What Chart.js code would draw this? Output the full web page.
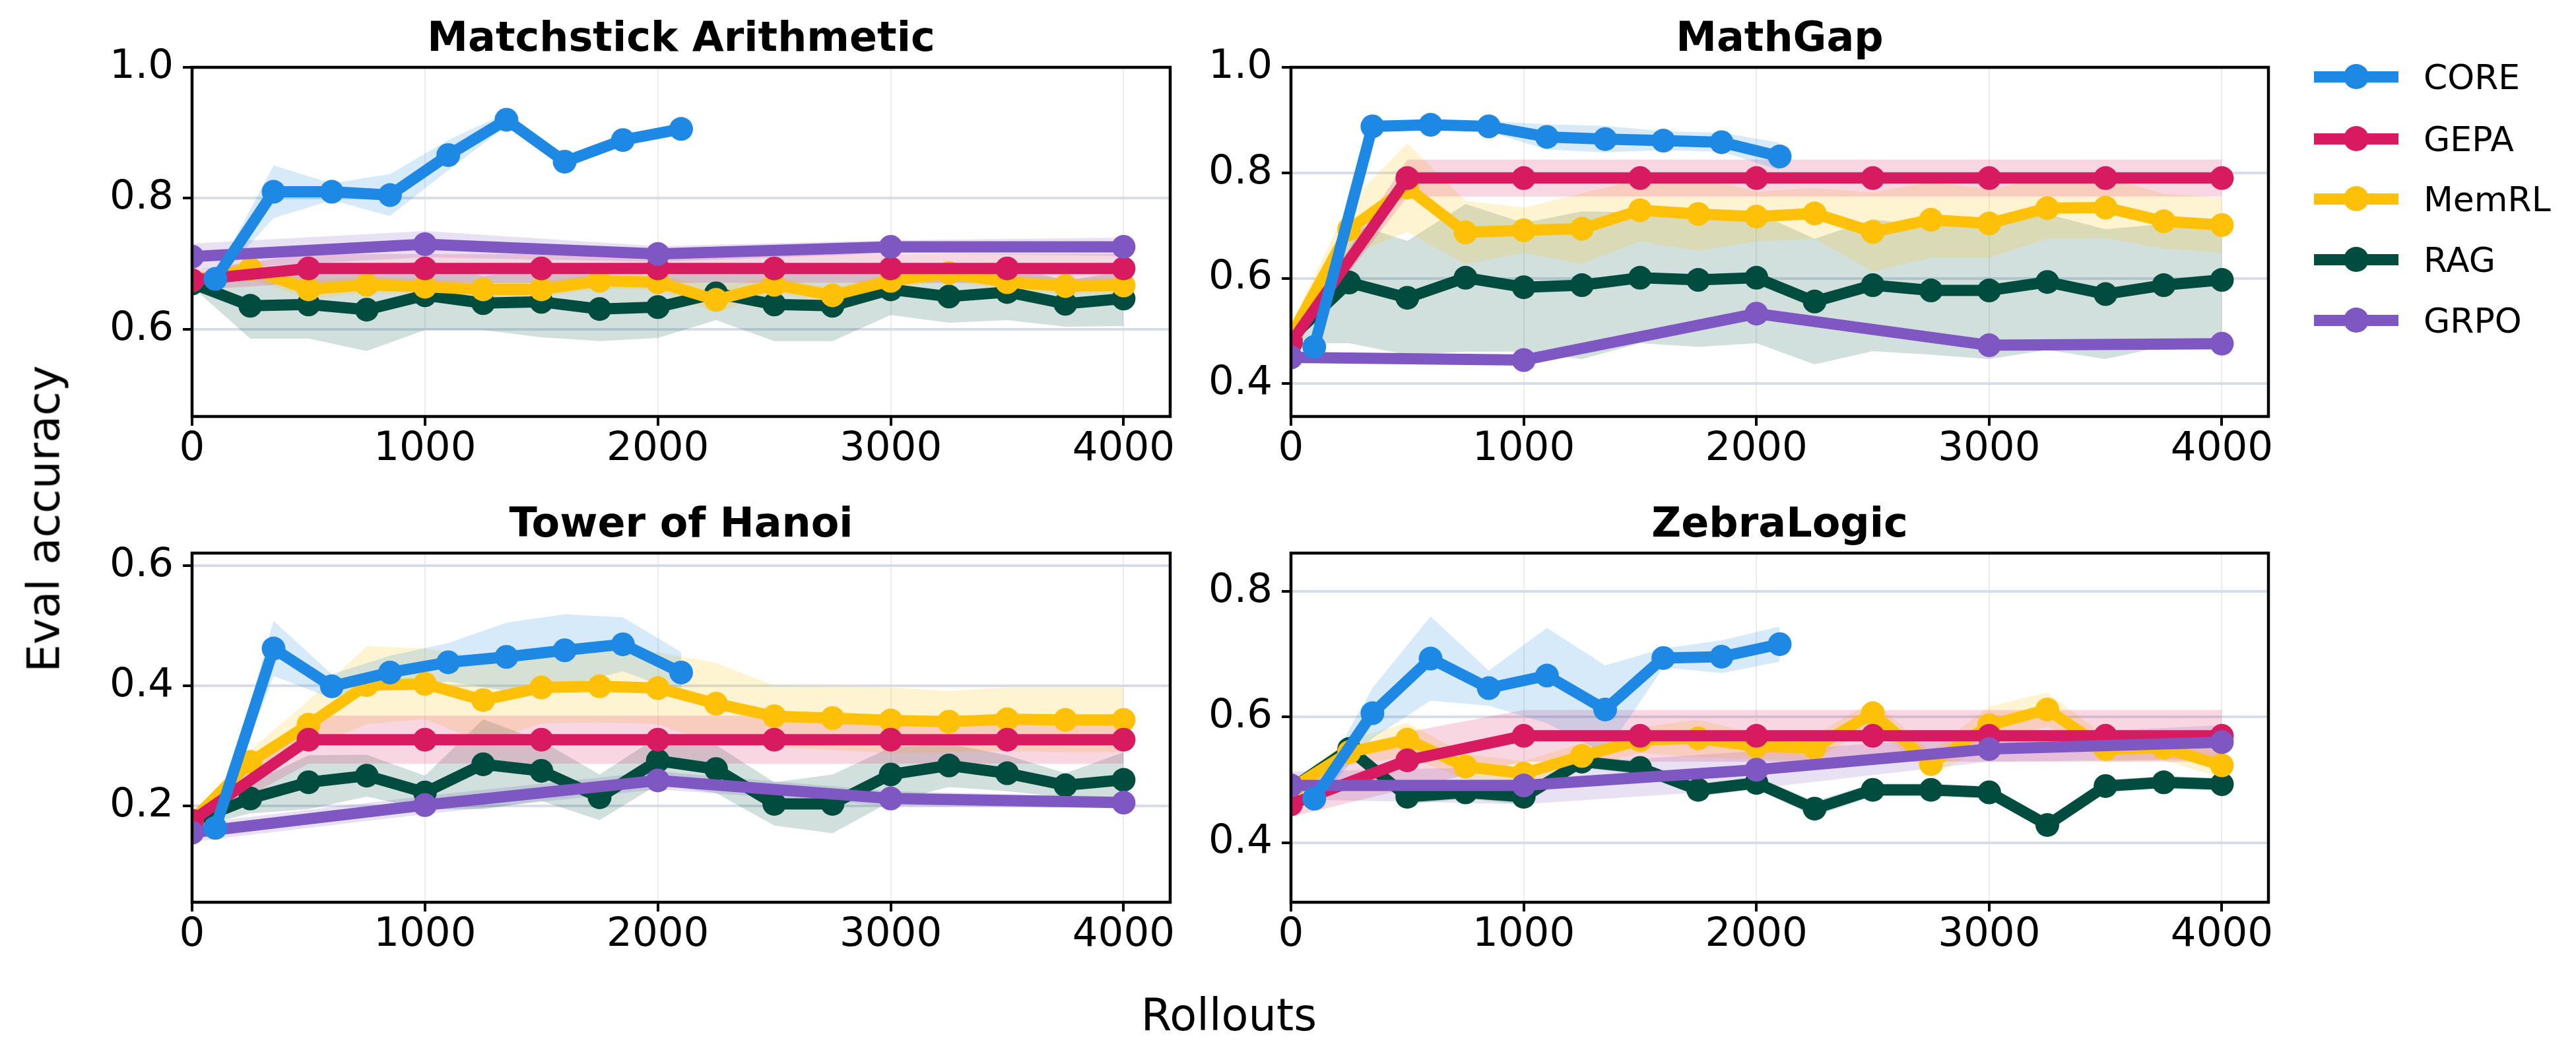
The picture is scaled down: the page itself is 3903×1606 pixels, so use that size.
<!DOCTYPE html>
<html>
<head>
<meta charset="utf-8">
<script src="https://cdn.jsdelivr.net/npm/chart.js@4.4.1/dist/chart.umd.min.js"></script>
<style>
  html, body { margin: 0; padding: 0; background: #fff; }
  body { width: 3903px; height: 1606px; position: relative; overflow: hidden; font-family: "DejaVu Sans", sans-serif; }
  canvas { position: absolute; }
  .sup { position: absolute; font-size: 67px; line-height: 1; color: #000; white-space: nowrap; transform: translate(-50%, -50%); }
  .lg-line { position: absolute; height: 17px; }
  .lg-dot { position: absolute; width: 38px; height: 38px; border-radius: 50%; }
  .lg-text { position: absolute; font-size: 52px; line-height: 1; color: #000; white-space: nowrap; }
</style>
</head>
<body>
<canvas id="p1" width="1702" height="719" style="left:91px;top:2px"></canvas>
<canvas id="p2" width="1701" height="719" style="left:1756px;top:2px"></canvas>
<canvas id="p3" width="1702" height="719" style="left:91px;top:738px"></canvas>
<canvas id="p4" width="1701" height="719" style="left:1756px;top:738px"></canvas>
<div class="sup" style="left:67px;top:786px;transform:translate(-50%,-50%) rotate(-90deg)">Eval accuracy</div>
<div class="sup" style="left:1862px;top:1538px">Rollouts</div>
<div id="legend"></div>
<script>
// rollout positions of each method
const xCore = [100, 350, 600, 850, 1100, 1350, 1600, 1850, 2100];
const xGepa = [0, 500, 1000, 1500, 2000, 2500, 3000, 3500, 4000];
const xStep = [0, 250, 500, 750, 1000, 1250, 1500, 1750, 2000, 2250, 2500, 2750, 3000, 3250, 3500, 3750, 4000];
const xGrpo = [0, 1000, 2000, 3000, 4000];
const xTicks = [0, 1000, 2000, 3000, 4000];

// Matchstick Arithmetic
const matCore   = [0.677, 0.810, 0.810, 0.805, 0.866, 0.920, 0.856, 0.889, 0.906];
const matCoreSd = [0.005, 0.040, 0.013, 0.032, 0.023, 0.010, 0.005, 0.005, 0.005];
const matGepa   = [0.675, 0.693, 0.693, 0.693, 0.693, 0.693, 0.693, 0.693, 0.693];
const matGepaSd = [0.015, 0.022, 0.022, 0.022, 0.022, 0.022, 0.022, 0.022, 0.022];
const matMem    = [0.675, 0.692, 0.661, 0.668, 0.665, 0.661, 0.661, 0.674, 0.672, 0.645, 0.668, 0.652, 0.674, 0.686, 0.672, 0.666, 0.667];
const matMemSd  = [0.008, 0.015, 0.015, 0.012, 0.012, 0.012, 0.012, 0.012, 0.012, 0.020, 0.012, 0.012, 0.012, 0.012, 0.012, 0.012, 0.012];
const matRag    = [0.670, 0.636, 0.638, 0.630, 0.652, 0.640, 0.642, 0.631, 0.634, 0.655, 0.638, 0.636, 0.661, 0.650, 0.657, 0.639, 0.647];
const matRagSd  = [0.005, 0.050, 0.052, 0.063, 0.053, 0.041, 0.054, 0.049, 0.047, 0.041, 0.056, 0.054, 0.039, 0.040, 0.043, 0.035, 0.042];
const matGrpo   = [0.711, 0.730, 0.715, 0.726, 0.726];
const matGrpoSd = [0.020, 0.020, 0.012, 0.010, 0.014];

// MathGap
const gapCore   = [0.470, 0.888, 0.891, 0.888, 0.868, 0.864, 0.861, 0.858, 0.831];
const gapCoreSd = [0.005, 0.012, 0.008, 0.010, 0.024, 0.025, 0.018, 0.018, 0.026];
const gapGepa   = [0.478, 0.790, 0.790, 0.790, 0.790, 0.790, 0.790, 0.790, 0.790];
const gapGepaSd = [0.010, 0.035, 0.035, 0.035, 0.035, 0.035, 0.035, 0.035, 0.035];
const gapMem    = [0.491, 0.693, 0.772, 0.687, 0.691, 0.694, 0.729, 0.722, 0.717, 0.723, 0.688, 0.711, 0.704, 0.733, 0.734, 0.708, 0.701];
const gapMemSd  = [0.020, 0.050, 0.084, 0.060, 0.043, 0.067, 0.059, 0.070, 0.047, 0.048, 0.075, 0.072, 0.065, 0.058, 0.058, 0.052, 0.052];
const gapRag    = [0.487, 0.592, 0.563, 0.601, 0.583, 0.587, 0.601, 0.597, 0.601, 0.556, 0.587, 0.577, 0.577, 0.593, 0.570, 0.587, 0.597];
const gapRagSd  = [0.010, 0.115, 0.108, 0.140, 0.122, 0.140, 0.124, 0.127, 0.124, 0.119, 0.125, 0.122, 0.130, 0.129, 0.123, 0.116, 0.119];
const gapGrpo   = [0.450, 0.445, 0.533, 0.473, 0.476];
const gapGrpoSd = [0.008, 0.008, 0.010, 0.008, 0.008];

// Tower of Hanoi
const tohCore   = [0.163, 0.462, 0.399, 0.422, 0.439, 0.448, 0.459, 0.469, 0.422];
const tohCoreSd = [0.005, 0.046, 0.020, 0.028, 0.032, 0.057, 0.060, 0.045, 0.034];
const tohGepa   = [0.175, 0.310, 0.310, 0.310, 0.310, 0.310, 0.310, 0.310, 0.310];
const tohGepaSd = [0.010, 0.040, 0.040, 0.040, 0.040, 0.040, 0.040, 0.040, 0.040];
const tohMem    = [0.175, 0.273, 0.335, 0.401, 0.403, 0.376, 0.397, 0.399, 0.396, 0.370, 0.349, 0.346, 0.342, 0.340, 0.344, 0.343, 0.343];
const tohMemSd  = [0.010, 0.020, 0.040, 0.065, 0.059, 0.070, 0.060, 0.060, 0.060, 0.068, 0.051, 0.053, 0.055, 0.051, 0.053, 0.054, 0.054];
const tohRag    = [0.173, 0.212, 0.239, 0.250, 0.222, 0.269, 0.258, 0.214, 0.275, 0.261, 0.203, 0.203, 0.252, 0.267, 0.254, 0.234, 0.243];
const tohRagSd  = [0.010, 0.025, 0.045, 0.035, 0.028, 0.075, 0.050, 0.038, 0.040, 0.040, 0.036, 0.049, 0.045, 0.036, 0.030, 0.020, 0.046];
const tohGrpo   = [0.155, 0.201, 0.242, 0.212, 0.205];
const tohGrpoSd = [0.015, 0.015, 0.015, 0.012, 0.010];

// ZebraLogic
const zebCore   = [0.470, 0.606, 0.693, 0.646, 0.666, 0.612, 0.694, 0.696, 0.716];
const zebCoreSd = [0.010, 0.040, 0.067, 0.028, 0.076, 0.070, 0.015, 0.026, 0.028];
const zebGepa   = [0.461, 0.531, 0.570, 0.570, 0.570, 0.570, 0.570, 0.570, 0.570];
const zebGepaSd = [0.020, 0.045, 0.041, 0.041, 0.041, 0.041, 0.041, 0.041, 0.041];
const zebMem    = [0.486, 0.544, 0.564, 0.521, 0.510, 0.538, 0.563, 0.566, 0.553, 0.551, 0.606, 0.525, 0.587, 0.612, 0.549, 0.551, 0.523];
const zebMemSd  = [0.010, 0.020, 0.027, 0.020, 0.020, 0.020, 0.020, 0.030, 0.020, 0.020, 0.020, 0.020, 0.030, 0.027, 0.020, 0.020, 0.020];
const zebRag    = [0.486, 0.549, 0.473, 0.480, 0.473, 0.529, 0.519, 0.484, 0.495, 0.454, 0.484, 0.484, 0.480, 0.428, 0.490, 0.496, 0.493];
const zebRagSd  = [0.005, 0.012, 0.012, 0.010, 0.012, 0.010, 0.010, 0.010, 0.010, 0.012, 0.010, 0.010, 0.010, 0.010, 0.010, 0.010, 0.010];
const zebGrpo   = [0.491, 0.491, 0.516, 0.549, 0.560];
const zebGrpoSd = [0.022, 0.030, 0.030, 0.020, 0.027];

const methods = ["CORE", "GEPA", "MemRL", "RAG", "GRPO"];
const colors = { CORE: "#1E88E5", GEPA: "#D81B60", MemRL: "#FFC107", RAG: "#004D40", GRPO: "#7E57C2" };
// lower number is painted last (on top)
const drawOrder = { CORE: 1, GRPO: 2, GEPA: 3, MemRL: 4, RAG: 5 };
const FONT = "'DejaVu Sans', sans-serif";

const panels = [
  { id: "p1", title: "Matchstick Arithmetic", yMin: 0.467, yMax: 1.0, yTicks: [0.6, 0.8, 1.0],
    rows: [["CORE", xCore, matCore, matCoreSd], ["GEPA", xGepa, matGepa, matGepaSd], ["MemRL", xStep, matMem, matMemSd],
           ["RAG", xStep, matRag, matRagSd], ["GRPO", xGrpo, matGrpo, matGrpoSd]] },
  { id: "p2", title: "MathGap", yMin: 0.338, yMax: 1.0, yTicks: [0.4, 0.6, 0.8, 1.0],
    rows: [["CORE", xCore, gapCore, gapCoreSd], ["GEPA", xGepa, gapGepa, gapGepaSd], ["MemRL", xStep, gapMem, gapMemSd],
           ["RAG", xStep, gapRag, gapRagSd], ["GRPO", xGrpo, gapGrpo, gapGrpoSd]] },
  { id: "p3", title: "Tower of Hanoi", yMin: 0.039, yMax: 0.621, yTicks: [0.2, 0.4, 0.6],
    rows: [["CORE", xCore, tohCore, tohCoreSd], ["GEPA", xGepa, tohGepa, tohGepaSd], ["MemRL", xStep, tohMem, tohMemSd],
           ["RAG", xStep, tohRag, tohRagSd], ["GRPO", xGrpo, tohGrpo, tohGrpoSd]] },
  { id: "p4", title: "ZebraLogic", yMin: 0.305, yMax: 0.861, yTicks: [0.4, 0.6, 0.8],
    rows: [["CORE", xCore, zebCore, zebCoreSd], ["GEPA", xGepa, zebGepa, zebGepaSd], ["MemRL", xStep, zebMem, zebMemSd],
           ["RAG", xStep, zebRag, zebRagSd], ["GRPO", xGrpo, zebGrpo, zebGrpoSd]] },
];

function withAlpha(hex, a) {
  const n = parseInt(hex.slice(1), 16);
  return `rgba(${(n >> 16) & 255}, ${(n >> 8) & 255}, ${n & 255}, ${a})`;
}

function buildDatasets(rows) {
  const out = [];
  rows.forEach(([name, xs, ys, sd]) => {
    const c = colors[name];
    const band = { borderWidth: 0, borderColor: "rgba(0,0,0,0)", pointRadius: 0, order: 50, clip: 0 };
    out.push({ ...band, label: name + "_hi", data: xs.map((x, i) => ({ x, y: ys[i] + sd[i] })),
               fill: "+1", backgroundColor: withAlpha(c, 0.18) });
    out.push({ ...band, label: name + "_lo", data: xs.map((x, i) => ({ x, y: ys[i] - sd[i] })), fill: false });
    out.push({
      label: name, data: xs.map((x, i) => ({ x, y: ys[i] })),
      borderColor: c, backgroundColor: c, borderWidth: 17, borderJoinStyle: "round",
      pointRadius: 18, pointBackgroundColor: c, pointBorderWidth: 0,
      fill: false, order: drawOrder[name], clip: 0,
    });
  });
  return out;
}

// full box round each plot, on top of the lines like matplotlib spines
const framePlugin = {
  id: "frame",
  afterDatasetsDraw(chart) {
    const { ctx, chartArea: a } = chart;
    ctx.save();
    ctx.strokeStyle = "#000";
    ctx.lineWidth = 4.5;
    ctx.strokeRect(a.left, a.top, a.right - a.left, a.bottom - a.top);
    ctx.restore();
  }
};

panels.forEach(p => {
  new Chart(document.getElementById(p.id), {
    type: "line",
    data: { datasets: buildDatasets(p.rows) },
    plugins: [framePlugin],
    options: {
      responsive: false,
      animation: false,
      devicePixelRatio: 1,
      events: [],
      layout: { padding: { left: 0, right: 20, top: 0, bottom: 0 } },
      plugins: {
        legend: { display: false },
        tooltip: { enabled: false },
        filler: { drawTime: "beforeDatasetsDraw" },
        title: {
          display: true, text: p.title, color: "#000", fullSize: false,
          font: { family: FONT, size: 62, weight: "bold", lineHeight: 1.2 },
          padding: { top: 22, bottom: 3.6 }
        }
      },
      scales: {
        x: {
          type: "linear", min: 0, max: 4200,
          afterBuildTicks: s => { s.ticks = xTicks.map(v => ({ value: v })); },
          afterFit: s => { s.height = 90; },
          border: { display: false },
          grid: { color: "#e9edf2", lineWidth: 2, tickColor: "#000", tickWidth: 4, tickLength: 14 },
          ticks: { color: "#000", font: { family: FONT, size: 61 }, padding: 0, maxRotation: 0, autoSkip: false,
                   callback: v => String(v) }
        },
        y: {
          type: "linear", min: p.yMin, max: p.yMax,
          afterBuildTicks: s => { s.ticks = p.yTicks.map(v => ({ value: v })); },
          afterFit: s => { s.width = 200; },
          border: { display: false },
          grid: { color: "#d6dde9", lineWidth: 4, tickColor: "#000", tickWidth: 4, tickLength: 14 },
          ticks: { color: "#000", font: { family: FONT, size: 61 }, padding: 14, callback: v => v.toFixed(1) }
        }
      }
    }
  });
});

// legend to the right of the MathGap panel
const legendRows = [116, 210, 301, 393, 485];
const legend = document.getElementById("legend");
methods.forEach((m, i) => {
  const y = legendRows[i];
  legend.insertAdjacentHTML("beforeend",
    `<div class="lg-line" style="left:3506px;top:${y - 8.5}px;width:128px;background:${colors[m]}"></div>` +
    `<div class="lg-dot" style="left:${3570 - 19}px;top:${y - 19}px;background:${colors[m]}"></div>` +
    `<div class="lg-text" style="left:3672px;top:${y - 25}px">${m}</div>`);
});
</script>
</body>
</html>
